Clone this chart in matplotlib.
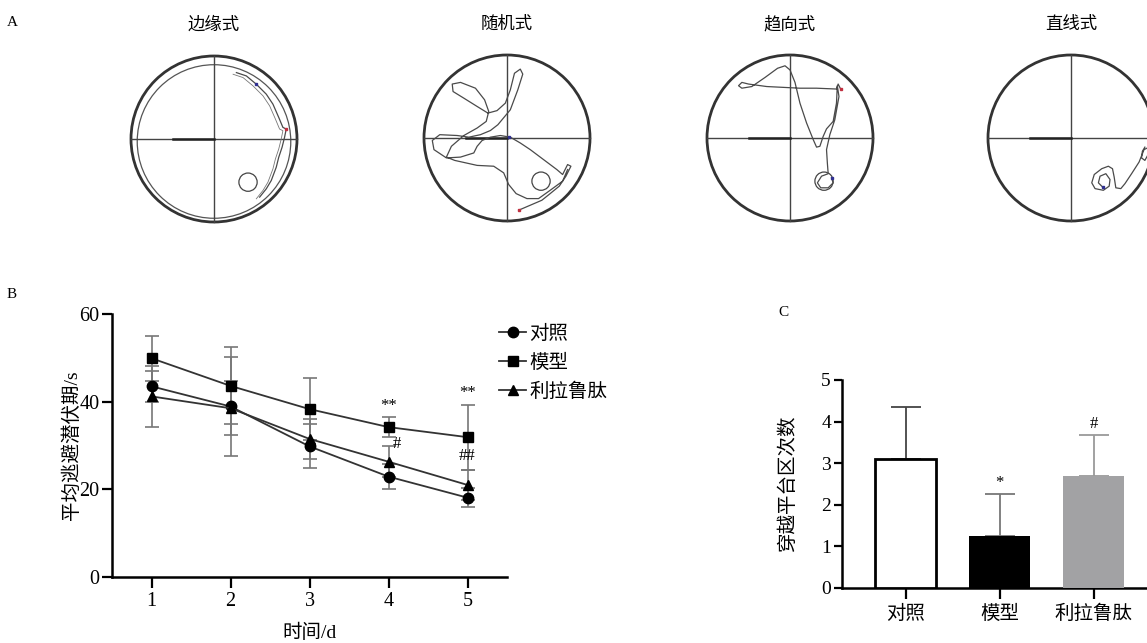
import numpy as np
import matplotlib.pyplot as plt
from matplotlib.patches import Circle

plt.rcParams['font.family'] = ['Liberation Serif', 'Noto Sans CJK SC']
plt.rcParams['axes.unicode_minus'] = False

# ---- A: swim path patterns (traced, unit radius, y pointing down)
maze_titles = ['边缘式', '随机式', '趋向式', '直线式']

path_edge = [(0.27, -0.80), (0.39, -0.76), (0.51, -0.66), (0.63, -0.54), (0.71, -0.42),
             (0.78, -0.26), (0.83, -0.14), (0.87, -0.12), (0.85, -0.02), (0.82, 0.10),
             (0.78, 0.22), (0.75, 0.34), (0.69, 0.50), (0.63, 0.60), (0.55, 0.70)]
path_random = [(0.14, 0.87), (0.28, 0.81), (0.42, 0.75), (0.52, 0.67), (0.63, 0.58),
               (0.71, 0.46), (0.77, 0.34), (0.73, 0.32), (0.67, 0.44), (0.60, 0.38),
               (0.44, 0.26), (0.28, 0.14), (0.16, 0.06), (0.04, -0.01), (-0.08, -0.03),
               (-0.20, -0.01), (-0.30, 0.03), (-0.36, 0.10), (-0.40, 0.18), (-0.56, 0.23),
               (-0.73, 0.24), (-0.88, 0.14), (-0.90, 0.03), (-0.81, -0.04), (-0.60, -0.03),
               (-0.46, -0.01), (-0.32, -0.04), (-0.20, -0.09), (-0.11, -0.16), (0.04, -0.34),
               (0.13, -0.58), (0.19, -0.77), (0.16, -0.83), (0.09, -0.78), (0.04, -0.58),
               (-0.02, -0.42), (-0.12, -0.33), (-0.23, -0.30), (-0.36, -0.38), (-0.52, -0.48),
               (-0.65, -0.56), (-0.66, -0.65), (-0.56, -0.67), (-0.38, -0.60), (-0.27, -0.46),
               (-0.22, -0.32), (-0.25, -0.20), (-0.36, -0.12), (-0.52, -0.03), (-0.67, 0.10),
               (-0.73, 0.23), (-0.63, 0.27), (-0.36, 0.33), (-0.16, 0.34), (-0.04, 0.42),
               (0.02, 0.56), (0.11, 0.67), (0.24, 0.73), (0.38, 0.73), (0.52, 0.63),
               (0.67, 0.52), (0.73, 0.38)]
path_trend = [(0.61, -0.59), (0.58, -0.65), (0.56, -0.59), (0.32, -0.60), (0.12, -0.60),
              (-0.28, -0.62), (-0.50, -0.65), (-0.58, -0.67), (-0.62, -0.63), (-0.58, -0.60),
              (-0.46, -0.62), (-0.30, -0.73), (-0.15, -0.84), (-0.06, -0.87), (0.00, -0.82),
              (0.06, -0.67), (0.12, -0.42), (0.20, -0.18), (0.28, 0.02), (0.32, 0.11),
              (0.36, 0.10), (0.40, -0.02), (0.44, -0.11), (0.52, -0.20), (0.56, -0.42),
              (0.57, -0.63), (0.59, -0.50), (0.54, -0.22), (0.48, -0.04), (0.44, 0.14),
              (0.45, 0.30), (0.46, 0.43), (0.38, 0.46), (0.33, 0.54), (0.37, 0.60),
              (0.46, 0.60), (0.52, 0.54), (0.50, 0.48)]
path_line = [(0.89, 0.11), (0.86, 0.16), (0.85, 0.24), (0.89, 0.27), (0.94, 0.18),
             (0.92, 0.12), (0.88, 0.14), (0.82, 0.29), (0.73, 0.43), (0.65, 0.55),
             (0.60, 0.61), (0.54, 0.60), (0.52, 0.47), (0.50, 0.37), (0.45, 0.34),
             (0.37, 0.37), (0.28, 0.44), (0.25, 0.54), (0.29, 0.61), (0.39, 0.63),
             (0.46, 0.58), (0.47, 0.50), (0.42, 0.43), (0.35, 0.46), (0.33, 0.54),
             (0.38, 0.59)]
paths = [path_edge, path_random, path_trend, path_line]
start_pts = [(0.87, -0.12), (0.14, 0.87), (0.61, -0.59), None]
end_pts = [(0.51, -0.66), (0.03, -0.01), (0.50, 0.48), (0.38, 0.59)]
show_platform = [True, True, True, False]

# ---- B: escape latency
days = [1, 2, 3, 4, 5]
groups = ['对照', '模型', '利拉鲁肽']
control_mean = [43.5, 38.9, 29.8, 22.9, 18.1]
control_sd = [3.6, 11.4, 5.0, 2.8, 2.2]
model_mean = [49.9, 43.6, 38.3, 34.2, 31.9]
model_sd = [5.1, 8.8, 7.1, 2.2, 7.4]
lira_mean = [41.2, 38.5, 31.5, 26.3, 21.0]
lira_sd = [6.9, 6.2, 4.5, 3.5, 3.5]
latency_marks = [('**', 4, 38.9), ('**', 5, 41.9), ('#', 4.1, 30.4), ('##', 5, 27.7)]

# ---- C: platform crossings
crossings = [3.11, 1.25, 2.70]
crossings_sd = [1.25, 1.00, 0.97]
crossing_marks = ['', '*', '#']

W, H = 1147, 643
fig = plt.figure(figsize=(W / 100, H / 100), dpi=100)

# background axes in pixel coordinates for panel A and panel letters
ax_a = fig.add_axes([0, 0, 1, 1])
ax_a.set_xlim(0, W)
ax_a.set_ylim(H, 0)
ax_a.axis('off')

centers = [(214, 139), (507, 138), (790, 138), (1071, 138)]
R = 83
for i, (cx, cy) in enumerate(centers):
    ax_a.add_patch(Circle((cx, cy), R, fill=False, ec='#333333', lw=2.0))
    ax_a.plot([cx - R, cx + R], [cy, cy], color='#444444', lw=1.0)
    ax_a.plot([cx, cx], [cy - R, cy + R], color='#444444', lw=1.0)
    ax_a.plot([cx - 0.5 * R, cx], [cy, cy], color='#222222', lw=1.8)
    if show_platform[i]:
        ax_a.add_patch(Circle((cx + 0.41 * R, cy + 0.52 * R), 0.11 * R,
                              fill=False, ec='#444444', lw=0.9))
    p = np.array(paths[i])
    ax_a.plot(cx + p[:, 0] * R, cy + p[:, 1] * R, color='#4a4a4a', lw=0.9)
    if start_pts[i] is not None:
        ax_a.plot(cx + start_pts[i][0] * R, cy + start_pts[i][1] * R, 's',
                  color='#c03040', ms=2)
    ax_a.plot(cx + end_pts[i][0] * R, cy + end_pts[i][1] * R, 's', color='#303090', ms=2)
    ax_a.text(cx, 25, maze_titles[i], ha='center', va='center', fontsize=12.5)
    if i == 0:
        # wall-hugging ring of the edge pattern
        ax_a.add_patch(Circle((cx, cy + 0.03 * R), 0.925 * R, fill=False,
                              ec='#555555', lw=0.9))
        q = p.copy()
        ax_a.plot(cx + (q[:, 0] - 0.04) * R, cy + (q[:, 1] + 0.02) * R,
                  color='#777777', lw=0.6)

ax_a.text(12, 22, 'A', fontsize=11, ha='center', va='center')
ax_a.text(12, 295, 'B', fontsize=11, ha='center', va='center')
ax_a.text(783, 313, 'C', fontsize=11, ha='center', va='center')

# ---- panel B
axb = fig.add_axes([112 / W, 1 - 577 / H, 395 / W, 263 / H])
series = [(control_mean, control_sd, 'o'), (model_mean, model_sd, 's'),
          (lira_mean, lira_sd, '^')]
for (m, s, mk), name in zip(series, groups):
    axb.errorbar(days, m, yerr=s, fmt='none', ecolor='#777777', elinewidth=1.2,
                 capsize=4.7, capthick=1.2, zorder=2)
    axb.plot(days, m, marker=mk, color='#333333', mfc='black', mec='black',
             ms=7.5, lw=1.3, label=name, zorder=3)
for txt, x, y in latency_marks:
    axb.text(x, y, txt, ha='center', va='center', fontsize=12)
axb.set_xlim(0.5, 5.5)
axb.set_ylim(0, 60)
axb.set_xticks(days)
axb.set_yticks([0, 20, 40, 60])
for side in ['top', 'right']:
    axb.spines[side].set_visible(False)
for side in ['left', 'bottom']:
    axb.spines[side].set_linewidth(1.8)
axb.tick_params(axis='both', width=1.6, labelsize=14.5, direction='out')
axb.tick_params(axis='y', length=7, pad=2)
axb.tick_params(axis='x', length=8, pad=3)
axb.set_xlabel('时间/d', fontsize=14)
axb.xaxis.set_label_coords(0.5, -(633 - 577) / 263)
axb.xaxis.label.set_va('center')
axb.set_ylabel('平均逃避潜伏期/s', fontsize=14)
axb.yaxis.set_label_coords(-(112 - 72) / 395, 0.5)
axb.yaxis.label.set_va('center')
axb.legend(loc='upper left', bbox_to_anchor=(499 / W, 1 - 325 / H),
           bbox_transform=fig.transFigure, frameon=False, fontsize=14,
           handlelength=1.4, handletextpad=0.15, labelspacing=0.55,
           borderpad=0, borderaxespad=0)

# ---- panel C
axc = fig.add_axes([842 / W, 1 - 588 / H, 308 / W, 208 / H])
xpos = np.arange(len(groups))
faces = ['white', 'black', '#a2a2a4']
err_colors = ['#444444', '#777777', '#9a9a9a']
for i in xpos:
    axc.bar(i, crossings[i], width=0.65, color=faces[i],
            edgecolor='black' if i == 0 else faces[i], lw=2.0 if i == 0 else 0, zorder=3)
    axc.errorbar(i, crossings[i], yerr=[[0], [crossings_sd[i]]], fmt='none',
                 ecolor=err_colors[i], elinewidth=1.3, capsize=11, capthick=1.3, zorder=2)
    if crossing_marks[i]:
        axc.text(i, crossings[i] + crossings_sd[i] + 0.28, crossing_marks[i],
                 ha='center', va='center', fontsize=12)
axc.set_xlim(-0.68, 2.6)
axc.set_ylim(0, 5)
axc.set_yticks(range(6))
axc.set_xticks(xpos)
axc.set_xticklabels(groups)
for side in ['top', 'right']:
    axc.spines[side].set_visible(False)
for side in ['left', 'bottom']:
    axc.spines[side].set_linewidth(1.8)
axc.tick_params(axis='both', width=1.6, labelsize=14, direction='out')
axc.tick_params(axis='y', length=6, pad=2)
axc.tick_params(axis='x', length=8, pad=4)
axc.set_ylabel('穿越平台区次数', fontsize=14)
axc.yaxis.set_label_coords(-(842 - 788) / 308, 0.5)
axc.yaxis.label.set_va('center')

fig.savefig('out.png', dpi=100)
